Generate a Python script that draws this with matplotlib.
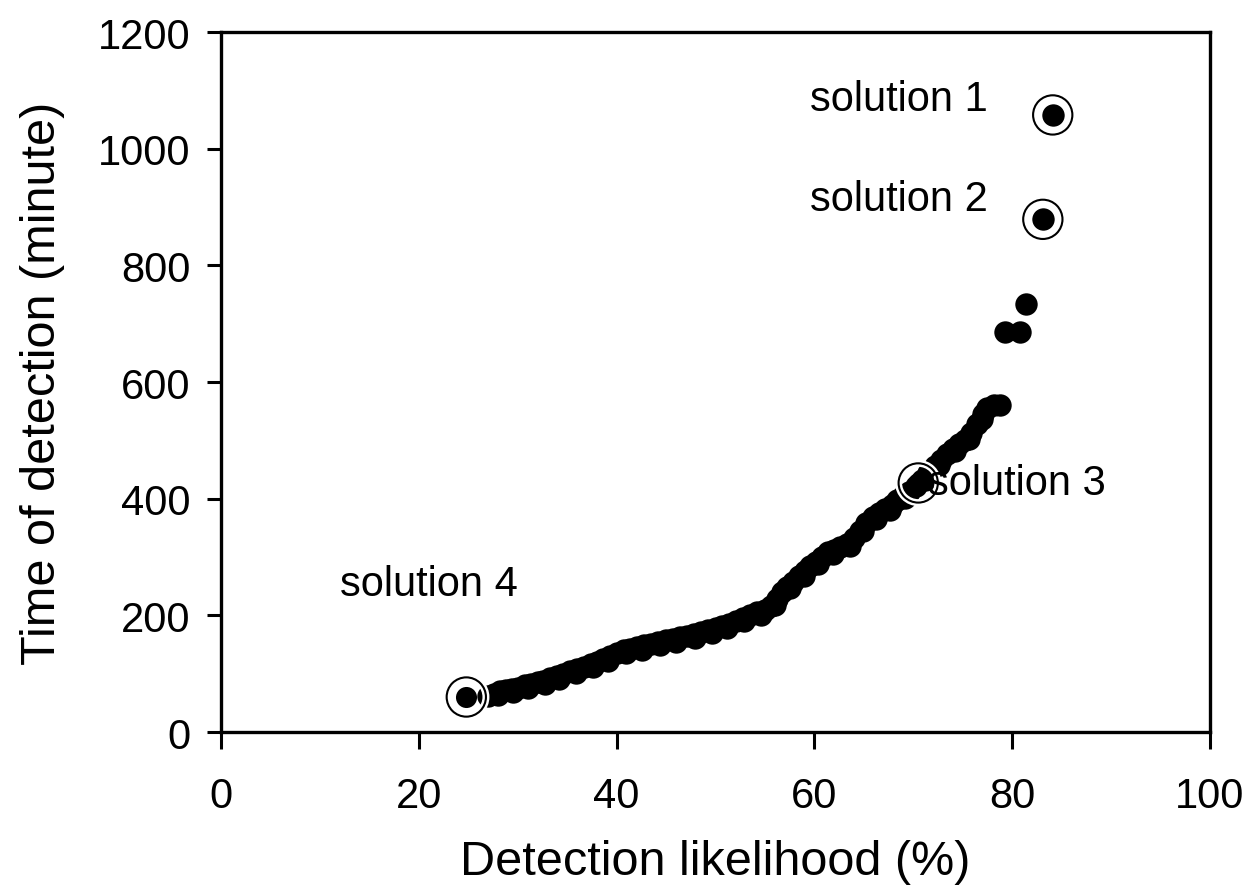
import matplotlib
matplotlib.use("Agg")
from matplotlib import pyplot as plt

plt.rcParams['font.family'] = ['Liberation Sans', 'DejaVu Sans']

# main cloud of solutions (detection likelihood %, time of detection in minutes)
likelihood = [27.0, 27.6, 28.2, 28.8, 29.4, 30.0, 30.7, 31.3, 32.0, 32.6,
              33.3, 34.0, 34.6, 35.3, 36.0, 36.7, 37.4, 38.0, 38.6, 39.3,
              40.0, 40.7, 41.4, 42.1, 42.8, 43.5, 44.2, 45.0, 45.7, 46.4,
              47.1, 47.8, 48.5, 49.2, 50.0, 50.7, 51.4, 52.1, 52.8, 53.5,
              54.2, 55.0, 55.6, 56.2, 56.7, 57.2, 57.8, 58.4, 59.0, 59.6,
              60.2, 60.8, 61.4, 62.0, 62.6, 63.3, 64.0, 64.6, 65.2, 65.9,
              66.5, 67.1, 67.8, 68.4, 69.0, 69.6, 70.3, 70.9, 71.5, 72.2,
              72.8, 73.4, 74.0, 74.6, 75.2, 75.8, 76.4, 77.0, 77.5, 78.2,
              78.8, 79.3, 80.8, 81.4, 83.1, 84.1,
              # second row of overlapping points just under the first
              28.0, 29.5, 31.0, 32.8, 34.2, 35.9, 37.6, 39.1, 40.9, 42.6,
              44.4, 46.0, 47.9, 49.6, 51.2, 52.9, 54.6, 56.0, 57.5, 58.9,
              60.4, 61.9, 63.6, 64.9, 66.2, 67.6, 69.2, 71.2, 72.6, 74.2,
              75.6, 76.9]
det_time = [62, 66, 70, 72, 74, 76, 80, 82, 86, 88,
            92, 96, 100, 104, 108, 112, 116, 120, 125, 130,
            136, 140, 143, 146, 149, 151, 154, 157, 160, 163,
            165, 168, 172, 175, 178, 182, 186, 190, 196, 200,
            205, 210, 216, 228, 240, 248, 258, 268, 276, 284,
            292, 300, 308, 312, 318, 322, 332, 345, 358, 368,
            375, 382, 390, 398, 405, 412, 422, 432, 444, 456,
            466, 476, 486, 494, 500, 512, 528, 545, 556, 560,
            560, 686, 686, 734, 879, 1058,
            63, 68, 75, 83, 91, 101, 111, 122, 135, 141,
            149, 155, 162, 170, 179, 190, 201, 218, 247, 268,
            288, 305, 319, 345, 365, 381, 401, 432, 457, 482,
            502, 536]

# highlighted solutions
sol_labels = ['solution 1', 'solution 2', 'solution 3', 'solution 4']
sol_x = [84.1, 83.1, 70.5, 24.8]
sol_y = [1058, 879, 427, 60]
label_x = [59.6, 59.6, 71.5, 12.0]
label_y = [1085, 914, 427, 254]

fig = plt.figure(figsize=(12.51, 8.95), dpi=100)
ax = fig.add_axes([0.1767, 0.181, 0.7905, 0.782])

ax.scatter(likelihood, det_time, s=260, color='black', linewidths=0, zorder=3)
# ring around each highlighted solution: white gap then thin black circle
ax.scatter(sol_x, sol_y, s=800, facecolors='none', edgecolors='white',
           linewidths=5, zorder=4)
ax.scatter(sol_x, sol_y, s=800, facecolors='none', edgecolors='black',
           linewidths=1.5, zorder=4)
ax.scatter(sol_x, sol_y, s=230, color='black', linewidths=0, zorder=5)

for lab, lx, ly in zip(sol_labels, label_x, label_y):
    ax.text(lx, ly, lab, fontsize=30, ha='left', va='center', zorder=6)

ax.set_xlim(0, 100)
ax.set_ylim(0, 1200)
ax.set_xticks([0, 20, 40, 60, 80, 100])
ax.set_yticks([0, 200, 400, 600, 800, 1000, 1200])
for sp in ax.spines.values():
    sp.set_linewidth(2.4)
ax.tick_params(axis='x', direction='out', length=12, width=2.2, pad=20,
               labelsize=30)
ax.tick_params(axis='y', direction='out', length=10, width=2.2, pad=12,
               labelsize=30)
ax.set_xlabel('Detection likelihood (%)', fontsize=35, labelpad=16)
ax.set_ylabel('Time of detection (minute)', fontsize=35, labelpad=24)

plt.savefig('out.png', dpi=100)
